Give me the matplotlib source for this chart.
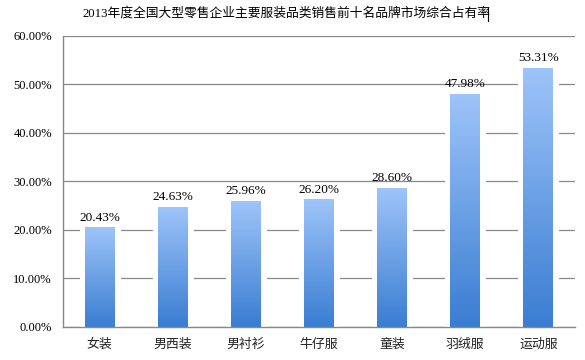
import matplotlib
matplotlib.use("Agg")
import matplotlib.pyplot as plt
import numpy as np
from matplotlib.colors import LinearSegmentedColormap
from matplotlib.lines import Line2D

categories = ["女装", "男西装", "男衬衫", "牛仔服", "童装", "羽绒服", "运动服"]
values = [20.43, 24.63, 25.96, 26.20, 28.60, 47.98, 53.31]
yticks = [0, 10, 20, 30, 40, 50, 60]
title = "2013年度全国大型零售企业主要服装品类销售前十名品牌市场综合占有率"

serif = ["Liberation Serif", "Noto Sans CJK SC"]
cjk = ["Noto Sans CJK SC", "DejaVu Sans"]

fig = plt.figure(figsize=(5.85, 3.6), dpi=100)
ax = fig.add_axes([0.1077, 0.0917, 0.8753, 0.8083])

x = np.arange(len(categories))
width = 0.41
bars = ax.bar(x, values, width=width, color="none", edgecolor="white", linewidth=8, zorder=2)

cmap = LinearSegmentedColormap.from_list("g", ["#3a7dd2", "#9ec4f9"])
grad = np.linspace(0, 1, 256).reshape(-1, 1)
for b in bars:
    bx, by = b.get_x(), b.get_y()
    w, h = b.get_width(), b.get_height()
    ax.imshow(grad, cmap=cmap, aspect="auto", origin="lower",
              extent=[bx, bx + w, by, by + h], zorder=3)
    ax.text(bx + w / 2, h + 0.9, f"{h:.2f}%", ha="center", va="bottom",
            fontsize=9.5, family=serif, color="black", zorder=4)

ax.set_xlim(-0.5, len(categories) - 0.5)
ax.set_ylim(0, 60)
ax.set_yticks(yticks)
ax.set_yticklabels([f"{v:.2f}%" for v in yticks], fontsize=9, family=serif)
ax.set_xticks(x)
ax.set_xticklabels(categories, fontsize=9.3, family=cjk, color="#222222")
ax.tick_params(axis="y", length=0, pad=8)
ax.tick_params(axis="x", length=0, pad=8)
ax.yaxis.grid(True, color="#888888", linewidth=0.9, zorder=1)
ax.set_axisbelow(True)
for s in ["top", "right"]:
    ax.spines[s].set_visible(False)
for s in ["left", "bottom"]:
    ax.spines[s].set_color("#888888")
    ax.spines[s].set_linewidth(1)
    ax.spines[s].set_zorder(5)

fig.text(0.489, 0.962, title, ha="center", va="center", fontsize=9.2, family=serif)
fig.add_artist(Line2D([0.834, 0.834], [0.942, 0.978], color="black", linewidth=0.8))

fig.savefig("out.png", dpi=100)
